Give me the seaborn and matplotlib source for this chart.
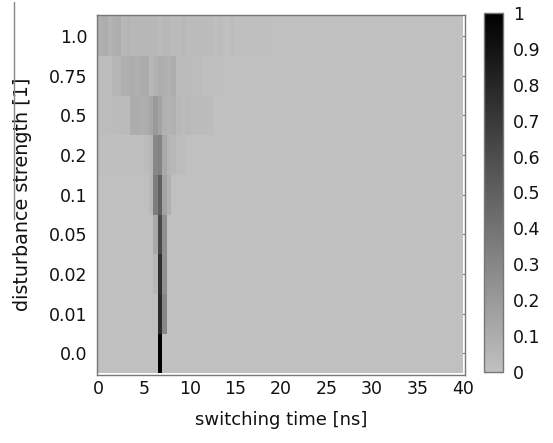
import numpy as np
import pandas as pd
import matplotlib
matplotlib.use("Agg")
import matplotlib.pyplot as plt
from matplotlib.colors import LinearSegmentedColormap
from matplotlib.lines import Line2D
import seaborn as sns

# ---- data (0.5 ns bins starting at 0 ns; unlisted bins are 0) ----
strength_labels = ["1.0", "0.75", "0.5", "0.2", "0.1", "0.05", "0.02", "0.01", "0.0"]
bin_width_ns = 0.5
t_max_ns = 40

row_1_0 = [0.09, 0.10, 0.07, 0.09, 0.10, 0.05, 0.06, 0.05, 0.05, 0.04, 0.05, 0.04,
           0.04, 0.03, 0.05, 0.04, 0.03, 0.03, 0.04, 0.03, 0.03, 0.02, 0.03,
           0.02, 0.02, 0.01, 0.02, 0.01, 0.01, 0.02, 0.01, 0.01, 0.01, 0.01, 0.01,
           0.005, 0.005, 0.005]
row_0_75 = [0.02, 0.02, 0.02, 0.06, 0.06, 0.09, 0.09, 0.10, 0.09, 0.11, 0.11, 0.04,
            0.08, 0.10, 0.09, 0.08, 0.10, 0.03, 0.02, 0.03, 0.02, 0.02, 0.02, 0.01,
            0.01, 0.01, 0.01]
row_0_5 = [0.02, 0.02, 0.02, 0.02, 0.03, 0.03, 0.03, 0.10, 0.10, 0.09, 0.10, 0.14,
           0.20, 0.15, 0.08, 0.07, 0.08, 0.04, 0.03, 0.04, 0.03, 0.02, 0.03, 0.02,
           0.02]
row_0_2 = [0.01, 0.0, 0.01, 0.0, 0.01, 0.0, 0.01, 0.01, 0.0, 0.01, 0.02, 0.05,
           0.30, 0.32, 0.12, 0.06, 0.04, 0.02, 0.02]
row_0_1 = [0.0, 0.0, 0.0, 0.0, 0.0, 0.0, 0.0, 0.0, 0.0, 0.0, 0.0, 0.04,
           0.35, 0.50, 0.15, 0.08]
row_0_05 = [0.0, 0.0, 0.0, 0.0, 0.0, 0.0, 0.0, 0.0, 0.0, 0.0, 0.0, 0.0,
            0.12, 0.62, 0.25]
row_0_02 = [0.0, 0.0, 0.0, 0.0, 0.0, 0.0, 0.0, 0.0, 0.0, 0.0, 0.0, 0.0,
            0.05, 0.75, 0.25]
row_0_01 = [0.0, 0.0, 0.0, 0.0, 0.0, 0.0, 0.0, 0.0, 0.0, 0.0, 0.0, 0.0,
            0.0, 0.78, 0.30]
row_0_0 = [0.0, 0.0, 0.0, 0.0, 0.0, 0.0, 0.0, 0.0, 0.0, 0.0, 0.0, 0.0,
           0.0, 1.0]

rows = [row_1_0, row_0_75, row_0_5, row_0_2, row_0_1, row_0_05, row_0_02, row_0_01, row_0_0]
x_tick_values = [0, 5, 10, 15, 20, 25, 30, 35, 40]
cbar_tick_values = [0, 0.1, 0.2, 0.3, 0.4, 0.5, 0.6, 0.7, 0.8, 0.9, 1.0]
cbar_tick_labels = ["0", "0.1", "0.2", "0.3", "0.4", "0.5", "0.6", "0.7", "0.8", "0.9", "1"]

n_bins = int(t_max_ns / bin_width_ns)
matrix = np.zeros((len(rows), n_bins))
for i, r in enumerate(rows):
    matrix[i, :len(r)] = r
bin_starts = np.arange(n_bins) * bin_width_ns
df = pd.DataFrame(matrix, index=strength_labels, columns=bin_starts)

# ---- plot ----
sns.set_theme(style="white")
plt.rcParams["font.family"] = ["DejaVu Sans"]

fig = plt.figure(figsize=(5.53, 4.43), dpi=100)
ax = fig.add_axes([0.176, 0.154, 0.664, 0.813])
cax = fig.add_axes([0.876, 0.160, 0.034, 0.811])

cmap = LinearSegmentedColormap.from_list("gp_grey", [(0.753, 0.753, 0.753), (0, 0, 0)])
sns.heatmap(df, ax=ax, cmap=cmap, vmin=0, vmax=1, cbar_ax=cax,
            xticklabels=False, yticklabels=False, linewidths=0)

frame_col = "#777777"
txt_col = "#111111"
ax.set_facecolor("white")
ax.set_xlim(-0.25, n_bins + 0.25)
ax.set_ylim(len(rows) + 0.04, -0.04)
for sp in ax.spines.values():
    sp.set_visible(True)
    sp.set_color(frame_col)
    sp.set_linewidth(1.0)

ax.set_xticks([v / bin_width_ns for v in x_tick_values])
ax.set_xticklabels([str(v) for v in x_tick_values], fontsize=12.5, color=txt_col)
ax.set_yticks(np.arange(len(rows)) + 0.5)
ax.set_yticklabels(strength_labels, fontsize=12.5, color=txt_col)
ax.tick_params(axis="x", length=0, pad=4)
ax.tick_params(axis="y", direction="in", length=4, width=0.8, color=frame_col,
               left=True, right=True, pad=7)
ax.set_xlabel("switching time [ns]", fontsize=13, color=txt_col, labelpad=9)
ax.set_ylabel("disturbance strength [1]", fontsize=13.8, color=txt_col, labelpad=12)

cbar = ax.collections[0].colorbar
cbar.set_ticks(cbar_tick_values)
cbar.set_ticklabels(cbar_tick_labels)
cbar.outline.set_visible(True)
cbar.outline.set_edgecolor(frame_col)
cbar.outline.set_linewidth(1.0)
cax.tick_params(axis="y", direction="in", length=4, width=0.8, color="#333333",
                left=True, right=True, labelsize=12.5, labelcolor=txt_col, pad=7)

# stray vertical line at the top-left of the original
fig.add_artist(Line2D([14 / 553, 14 / 553], [1 - 2 / 443, 1 - 219 / 443],
                      transform=fig.transFigure, color="#888888", linewidth=1.0))

fig.savefig("out.png", dpi=100)
